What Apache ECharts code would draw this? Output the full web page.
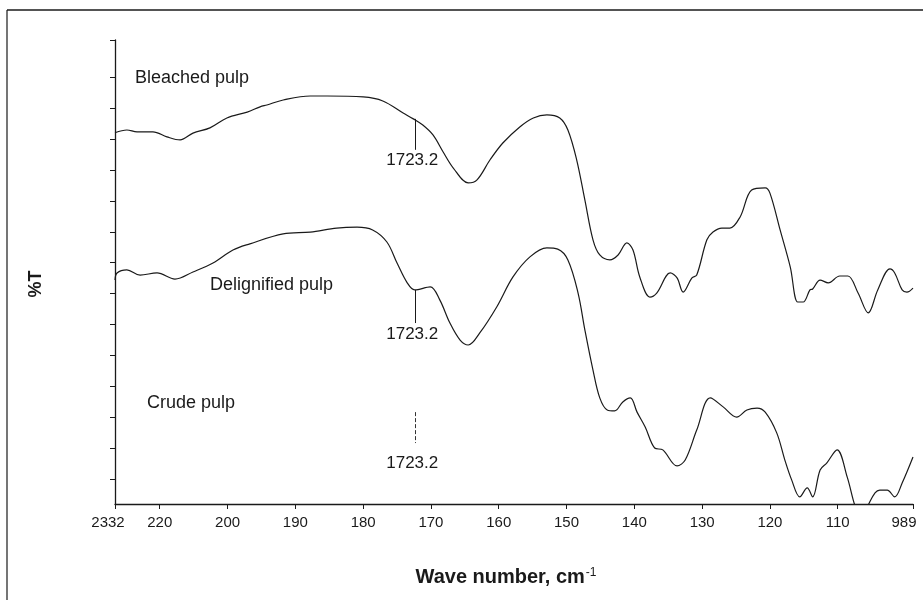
<!DOCTYPE html>
<html>
<head>
<meta charset="utf-8">
<script src="https://cdn.jsdelivr.net/npm/echarts@6/dist/echarts.min.js"></script>
<style>html,body{margin:0;padding:0;background:#fff;}#chart{width:923px;height:600px;}</style>
</head>
<body>
<div id="chart"></div>
<script>
// ---- data (wave number in cm-1, %T in arbitrary stacked units) ----
const bleachedWN = [2332,2297,2267,2220,2179,2140,2102,2052,2002,1971,1952,1942,1918,1878,1853,1800,1771,1741,1726,1712,1697,1682,1667,1645,1632,1613,1594,1569,1549,1529,1510,1498,1485,1473,1461,1451,1436,1424,1411,1402,1392,1377,1367,1347,1337,1328,1315,1308,1293,1284,1271,1259,1244,1227,1207,1200,1185,1170,1159,1151,1141,1137,1126,1114,1097,1085,1070,1055,1041,1023,1016,1005,998,989];
const bleachedT  = [12.0,12.09,12.03,12.03,11.87,11.77,11.99,12.16,12.48,12.67,12.84,12.90,13.06,13.19,13.19,13.16,13.03,12.64,12.45,12.25,11.93,11.38,10.86,10.38,10.48,11.12,11.67,12.19,12.48,12.58,12.48,12.09,11.12,9.83,8.54,8.05,7.89,8.05,8.44,8.21,7.34,6.69,6.82,7.47,7.31,6.85,7.31,7.40,8.54,8.79,8.92,8.92,9.28,10.15,10.22,10.05,8.86,7.66,6.53,6.53,6.92,6.95,7.24,7.15,7.37,7.37,6.82,6.18,6.92,7.60,7.47,6.92,6.85,6.98];

const delignWN = [2332,2326,2297,2258,2208,2155,2102,2043,1992,1967,1918,1878,1839,1809,1786,1765,1750,1735,1724,1701,1687,1672,1657,1645,1628,1603,1579,1554,1529,1513,1498,1483,1473,1461,1451,1440,1429,1417,1406,1396,1384,1370,1358,1337,1325,1308,1288,1269,1249,1234,1219,1207,1190,1178,1168,1156,1145,1137,1126,1116,1101,1086,1075,1066,1055,1045,1038,1027,1016,1005,989];
const delignT  = [7.24,7.47,7.57,7.40,7.47,7.27,7.50,7.79,8.21,8.41,8.73,8.79,8.92,8.95,8.86,8.47,7.79,7.15,6.92,7.02,6.60,5.85,5.30,5.14,5.53,6.37,7.34,7.99,8.28,8.24,7.89,6.82,5.63,4.33,3.43,3.04,3.01,3.30,3.43,2.97,2.49,1.81,1.75,1.23,1.42,2.39,3.43,3.14,2.81,3.04,3.10,2.97,2.30,1.42,0.78,0.23,0.52,0.23,1.10,1.33,1.75,0.87,-0.03,-0.5,-0.03,0.36,0.45,0.45,0.23,0.68,1.52];

// tick positions (wave numbers) and their printed labels
const tickWN     = [2332,2200,2000,1900,1800,1700,1600,1500,1400,1300,1200,1100,989];
const tickLabels = ['2332','220','200','190','180','170','160','150','140','130','120','110','989'];

// peak annotation (cm-1) and its label
const peakWN = 1723.2;
const peakLabel = '1723.2';
const seriesNames = ['Bleached pulp','Delignified pulp','Crude pulp'];

// axis break: above 2000 cm-1 the scale is compressed by 2
function toAxis(w){ return w > 2000 ? 2000 + (w - 2000) / 2 : w; }

const pairs = (xs, ys) => xs.map((w, i) => [toAxis(w), ys[i]]);
const tickAxisVals = tickWN.map(toAxis);
const labelMap = {};
tickAxisVals.forEach((v, i) => { labelMap[v] = tickLabels[i]; });

const FONT = '"Liberation Sans", Arial, Helvetica, sans-serif';
const ink = '#1a1a1a';

const chart = echarts.init(document.getElementById('chart'), null, {renderer:'canvas'});
const yTicks = [];
for (let k = 0; k < 14; k++) yTicks.push(+(0.8 + k).toFixed(2));
yTicks.push(15);

const peakX = toAxis(peakWN);
const option = {
  backgroundColor: '#fff',
  animation: false,
  grid: {left: 115, right: 10, top: 40, bottom: 96},
  xAxis: {
    type: 'value', min: toAxis(989), max: toAxis(2332), inverse: true,
    axisLine: {show: true, lineStyle: {color: ink, width: 1.3}},
    axisTick: {show: true, customValues: tickAxisVals, length: 5, inside: false, lineStyle: {color: ink, width: 1}},
    axisLabel: {
      customValues: tickAxisVals, color: ink, fontFamily: FONT, fontSize: 15, margin: 11,
      formatter: v => {
        const t = labelMap[v] || '';
        if (t === '2332') return '{l|' + t + '}';
        if (t === '989') return '{r|' + t + '}';
        return t;
      },
      rich: {
        l: {fontFamily: FONT, fontSize: 15, color: ink, padding: [0, 14, 0, 0]},
        r: {fontFamily: FONT, fontSize: 15, color: ink, padding: [0, 18, 0, 0]}
      }
    },
    splitLine: {show: false}
  },
  yAxis: {
    type: 'value', min: 0, max: 15,
    axisLine: {show: true, lineStyle: {color: ink, width: 1.3}},
    axisTick: {show: true, customValues: yTicks, length: 5, lineStyle: {color: ink, width: 1}},
    axisLabel: {show: false},
    splitLine: {show: false}
  },
  series: [
    {
      name: seriesNames[0], type: 'line', data: pairs(bleachedWN, bleachedT),
      showSymbol: false, smooth: 0.35, clip: true,
      lineStyle: {color: ink, width: 1.2},
      markLine: {
        silent: true, symbol: 'none', label: {show: false},
        lineStyle: {color: ink, width: 1, type: 'solid'},
        data: [
          [{coord: [peakX, 12.45]}, {coord: [peakX, 11.45]}],
          [{coord: [peakX, 6.92]}, {coord: [peakX, 5.85]}],
          [{coord: [peakX, 2.97], lineStyle: {type: [4, 2], color: '#333'}}, {coord: [peakX, 1.97]}]
        ]
      }
    },
    {
      name: seriesNames[1], type: 'line', data: pairs(delignWN, delignT),
      showSymbol: false, smooth: 0.35, clip: true,
      lineStyle: {color: ink, width: 1.2}
    }
  ]
};
chart.setOption(option);

// text annotations positioned from data coordinates
const px = (x, y) => chart.convertToPixel({gridIndex: 0}, [x, y]);
const annot = [];
const txt = (text, p, align, size) => ({
  type: 'text', x: p[0], y: p[1], silent: true,
  style: {text: text, fill: ink, font: size + 'px ' + FONT, textAlign: align, textVerticalAlign: 'middle'}
});
annot.push(txt(seriesNames[0], [135, px(0, 13.77)[1]], 'left', 18));
annot.push(txt(seriesNames[1], [210, px(0, 7.08)[1]], 'left', 18));
annot.push(txt(seriesNames[2], [147, px(0, 3.26)[1]], 'left', 18));
[11.1, 5.5, 1.33].forEach(v => {
  const p = px(peakX, v);
  annot.push(txt(peakLabel, [p[0] - 3, p[1]], 'center', 17));
});
// axis titles
annot.push({
  type: 'text', x: 36, y: 284, rotation: Math.PI / 2, silent: true,
  style: {text: '%T', fill: ink, font: 'bold 18px ' + FONT, textAlign: 'center', textVerticalAlign: 'middle'}
});
annot.push({
  type: 'text', x: 506, y: 577, silent: true,
  style: {
    text: '{a|Wave number, cm}{s|-1}', textAlign: 'center', textVerticalAlign: 'middle',
    rich: {
      a: {fontFamily: FONT, fontWeight: 'bold', fontSize: 20, fill: ink, color: ink},
      s: {fontFamily: FONT, fontSize: 12, fill: ink, color: ink, verticalAlign: 'top', padding: [0, 0, 8, 1]}
    }
  }
});
// figure frame (top and left border)
annot.push({type: 'line', silent: true, shape: {x1: 7, y1: 10, x2: 923, y2: 10}, style: {stroke: ink, lineWidth: 1.5}});
annot.push({type: 'line', silent: true, shape: {x1: 7, y1: 10, x2: 7, y2: 600}, style: {stroke: ink, lineWidth: 1.2}});

chart.setOption({graphic: annot});
</script>
</body>
</html>
